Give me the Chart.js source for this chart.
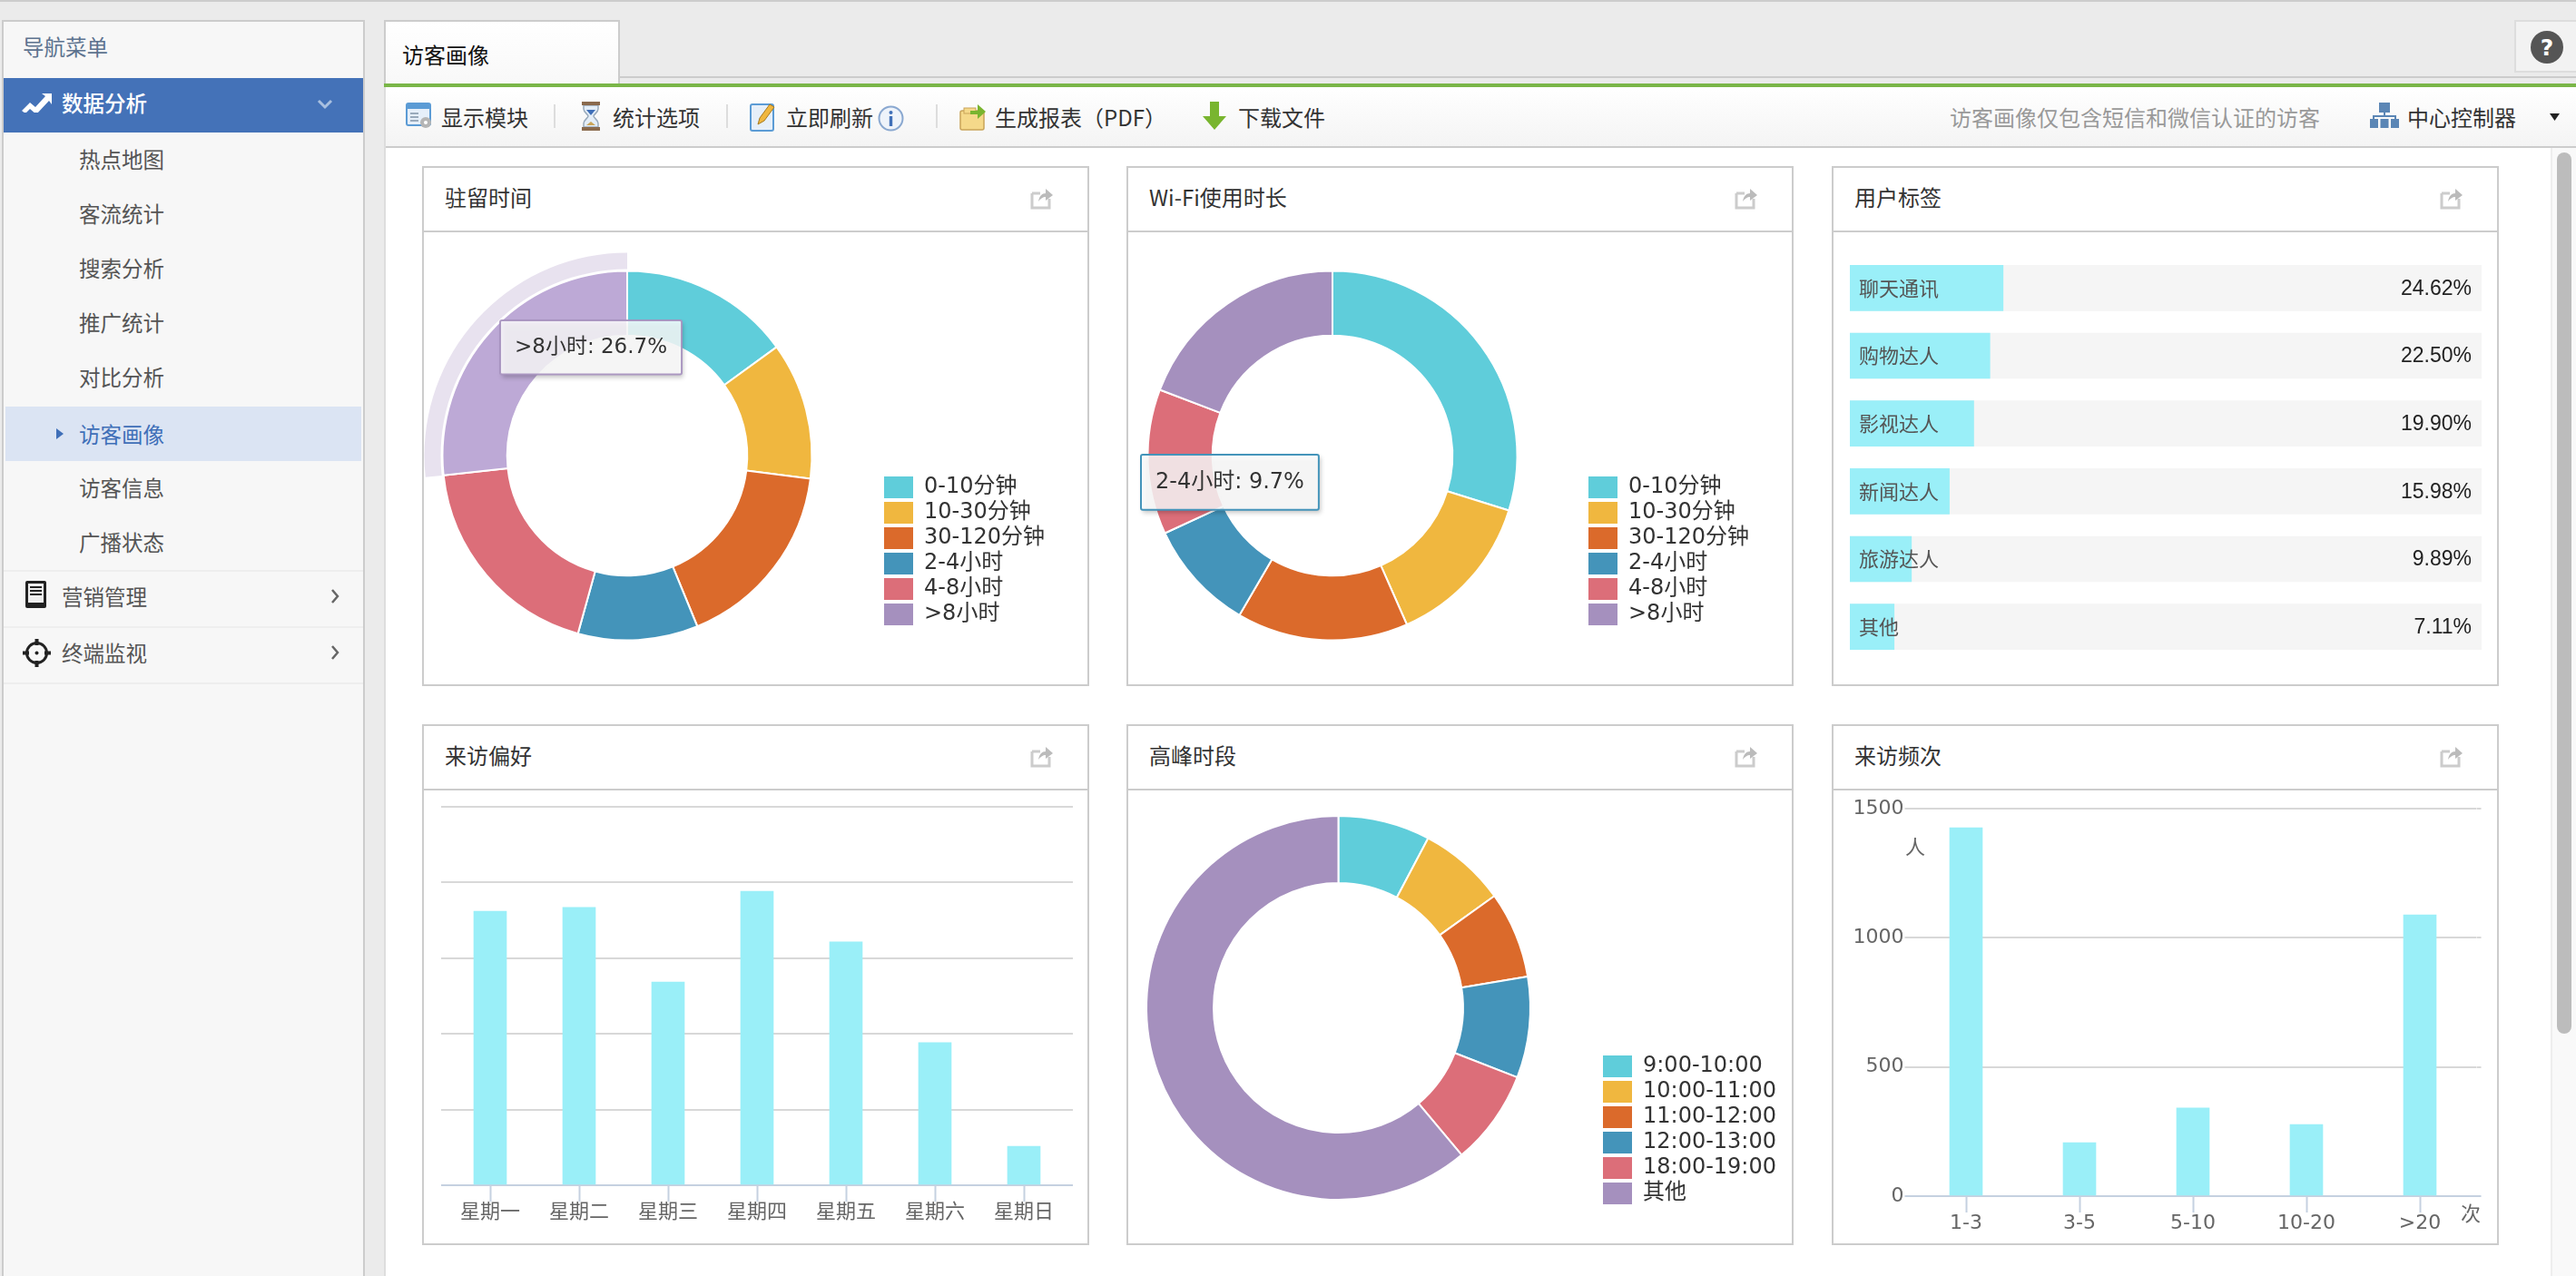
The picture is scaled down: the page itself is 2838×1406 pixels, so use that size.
<!DOCTYPE html>
<html lang="zh">
<head>
<meta charset="utf-8">
<title>访客画像</title>
<script src="https://cdn.jsdelivr.net/npm/chart.js@4"></script>
<style>
html, body { margin: 0; padding: 0; }
body { width: 2838px; height: 1406px; overflow: hidden; position: relative; background: #ebebeb;
  font-family: "Noto Sans CJK SC", sans-serif; font-size: 24px; color: #333; }
.abs, .side, .item, .tool, .panel, canvas, svg.ic { position: absolute; }
#topline { left: 0; top: 0; width: 2838px; height: 2px; background: #ccc; }
#sidebar { left: 2px; top: 22px; width: 400px; height: 1384px; box-sizing: border-box; background: #f7f7f7;
  border: 2px solid #ccc; border-bottom: 0; }
.item { font-size: 23.5px; line-height: 32px; color: #555; white-space: nowrap; }
#navhead { left: 25px; top: 35px; color: #5d738f; }
#row-active { left: 6px; top: 448px; width: 392px; height: 60px; background: #dbe4f3; }
#row-blue { left: 4px; top: 86px; width: 396px; height: 60px; background: #4472b8; }
.rule { left: 4px; width: 396px; height: 2px; background: #eee; }
#main { left: 423px; top: 96px; width: 2415px; height: 1310px; background: #fff; border-left: 2px solid #ddd; box-sizing: border-box; }
#tab { left: 423px; top: 22px; width: 260px; height: 72px; box-sizing: border-box; background: linear-gradient(#fff, #f8f8f8);
  border: 2px solid #ccc; border-bottom: 0; color: #111; line-height: 72px; padding-left: 18px; }
#tabline { left: 683px; top: 84px; width: 2155px; height: 2px; background: #ccc; }
#green { left: 423px; top: 92px; width: 2415px; height: 4px; background: #7ab648; }
#toolbar { left: 425px; top: 96px; width: 2413px; height: 67px; box-sizing: border-box; background: linear-gradient(#fff, #f4f4f4);
  border-bottom: 2px solid #ccc; }
.tool { top: 113px; line-height: 32px; white-space: nowrap; color: #333; }
.sep { top: 115px; width: 2px; height: 26px; background: #ddd; }
#help { left: 2770px; top: 22px; width: 68px; height: 58px; box-sizing: border-box; background: #f2f2f2; border: 2px solid #ddd; border-right: 0; }
#track { left: 2810px; top: 163px; width: 28px; height: 1243px; background: #f9f9f9; border-left: 2px solid #eee; box-sizing: border-box; }
#thumb { left: 2817px; top: 168px; width: 16px; height: 971px; background: #bcbcbc; border-radius: 8px; }
.panel { box-sizing: border-box; width: 735px; border: 2px solid #ccc; background: #fff; }
.panel h3 { margin: 0; height: 69px; line-height: 64px; padding-left: 23px; font-weight: 400; font-size: 24px; color: #333;
  border-bottom: 2px solid #ccc; }
.panel svg { position: absolute; right: 37px; top: 20px; width: 26px; height: 26px; }
.unit { font-size: 22px; line-height: 26px; color: #666; }
</style>
</head>
<body>
<svg width="0" height="0" style="position:absolute">
  <symbol id="exp" viewBox="0 0 26 26">
    <path d="M2 8h9M2 8v16h19v-10" fill="none" stroke="#ccc" stroke-width="3"/>
    <path d="M9 17c1-6 4-9 8-9V3l8 7-8 6v-4c-3 0-6 2-8 5z" fill="#bbb"/>
  </symbol>
</svg>

<div class="abs" id="topline"></div>

<!-- 左侧菜单 -->
<div class="abs" id="sidebar"></div>
<div class="abs" id="row-blue"></div>
<div class="abs" id="row-active"></div>
<div class="item" id="navhead">导航菜单</div>
<div class="item" style="left:68px;top:97px;color:#fff;font-weight:500">数据分析</div>
<div class="item" style="left:87px;top:159px">热点地图</div>
<div class="item" style="left:87px;top:219px">客流统计</div>
<div class="item" style="left:87px;top:279px">搜索分析</div>
<div class="item" style="left:87px;top:339px">推广统计</div>
<div class="item" style="left:87px;top:399px">对比分析</div>
<div class="item" style="left:87px;top:462px;color:#3f6fb8">访客画像</div>
<div class="item" style="left:87px;top:521px">访客信息</div>
<div class="item" style="left:87px;top:581px">广播状态</div>
<div class="abs rule" style="top:628px"></div>
<div class="item" style="left:68px;top:641px">营销管理</div>
<div class="abs rule" style="top:690px"></div>
<div class="item" style="left:68px;top:703px">终端监视</div>
<div class="abs rule" style="top:752px"></div>
<svg class="ic" style="left:24px;top:102px" width="33" height="22" viewBox="0 0 33 22"><path d="M0 20l9-9 6 5 11-12-4-3h11v12l-3-4-14 15-7-6-5 5z" fill="#fff"/></svg>
<svg class="ic" style="left:349px;top:109px" width="18" height="12" viewBox="0 0 18 12"><path d="M2 2l7 7 7-7" fill="none" stroke="#a9c0e0" stroke-width="3"/></svg>
<svg class="ic" style="left:62px;top:470px" width="9" height="16" viewBox="0 0 9 16"><path d="M0 2l8 6-8 6z" fill="#3f6fb8"/></svg>
<svg class="ic" style="left:28px;top:640px" width="23" height="30" viewBox="0 0 23 30"><rect width="23" height="30" rx="2" fill="#222"/><rect x="3" y="3" width="17" height="21" fill="#eee"/><path d="M5 7h13M5 11h13M5 15h13" stroke="#222" stroke-width="2"/></svg>
<svg class="ic" style="left:24px;top:703px" width="33" height="33" viewBox="0 0 33 33"><circle cx="16.5" cy="16.5" r="11" fill="none" stroke="#222" stroke-width="3"/><path d="M16.5 1v7M16.5 25v7M1 16.5h7M25 16.5h7" stroke="#222" stroke-width="4"/><circle cx="16.5" cy="16.5" r="2" fill="#222"/></svg>
<svg class="ic" style="left:364px;top:648px" width="10" height="18" viewBox="0 0 10 18"><path d="M2 2l6 7-6 7" fill="none" stroke="#666" stroke-width="2.5"/></svg>
<svg class="ic" style="left:364px;top:710px" width="10" height="18" viewBox="0 0 10 18"><path d="M2 2l6 7-6 7" fill="none" stroke="#666" stroke-width="2.5"/></svg>

<!-- 顶部标签和工具条 -->
<div class="abs" id="main"></div>
<div class="abs" id="tabline"></div>
<div class="abs" id="tab">访客画像</div>
<div class="abs" id="green"></div>
<div class="abs" id="toolbar"></div>
<svg class="ic" style="left:447px;top:113px" width="30" height="29" viewBox="0 0 30 29"><rect x="1" y="1" width="26" height="24" rx="2" fill="#e6eff9" stroke="#5b9bd5" stroke-width="2"/><rect x="1" y="1" width="26" height="6" fill="#5b9bd5"/><path d="M5 12h9M5 16h9M5 20h9" stroke="#9ab" stroke-width="2"/><circle cx="22" cy="22" r="6" fill="#b5b5b5"/><circle cx="22" cy="22" r="2" fill="#fff"/></svg>
<div class="tool" style="left:486px">显示模块</div>
<div class="abs sep" style="left:610px"></div>
<svg class="ic" style="left:640px;top:112px" width="22" height="32" viewBox="0 0 22 32"><path d="M3 4h16v4c0 4-5 6-5 8s5 4 5 8v4H3v-4c0-4 5-6 5-8S3 12 3 8z" fill="#e4eef8" stroke="#9ab" stroke-width="1.5"/><path d="M6 9h10l-5 6z" fill="#3f6fb8"/><path d="M6 26l5-4 5 4z" fill="#c9a458"/><rect x="1" y="0" width="20" height="4" fill="#8a6a4d"/><rect x="1" y="28" width="20" height="4" fill="#8a6a4d"/></svg>
<div class="tool" style="left:675px">统计选项</div>
<div class="abs sep" style="left:800px"></div>
<svg class="ic" style="left:826px;top:112px" width="29" height="33" viewBox="0 0 29 33"><rect x="1" y="3" width="25" height="29" rx="2" fill="#e6eff9" stroke="#5b9bd5" stroke-width="2"/><path d="M9 25l2-7L22 3l5 3-11 15z" fill="#f0b73f" stroke="#a87a20"/></svg>
<div class="tool" style="left:866px">立即刷新</div>
<svg class="ic" style="left:967px;top:116px" width="29" height="29" viewBox="0 0 29 29"><circle cx="14.5" cy="14.5" r="13" fill="#eef3fa" stroke="#8aa8d0" stroke-width="2"/><circle cx="14.5" cy="8" r="2" fill="#3f6fb8"/><rect x="12.8" y="12" width="3.4" height="11" fill="#3f6fb8"/></svg>
<div class="abs sep" style="left:1031px"></div>
<svg class="ic" style="left:1057px;top:112px" width="30" height="32" viewBox="0 0 30 32"><rect x="1" y="10" width="26" height="21" rx="2" fill="#f5d98a" stroke="#c9a458" stroke-width="1.5"/><rect x="5" y="7" width="13" height="6" fill="#f5d98a" stroke="#c9a458"/><path d="M12 10h8V3l9 8-9 8v-5h-8z" fill="#79b52f"/></svg>
<div class="tool" style="left:1096px">生成报表（PDF）</div>
<svg class="ic" style="left:1325px;top:112px" width="26" height="33" viewBox="0 0 26 33"><path d="M8 0h10v16h8L13 31 0 16h8z" fill="#79b52f"/></svg>
<div class="tool" style="left:1364px">下载文件</div>
<div class="tool" style="left:2148px;color:#999">访客画像仅包含短信和微信认证的访客</div>
<svg class="ic" style="left:2611px;top:113px" width="32" height="28" viewBox="0 0 32 28"><g fill="#5b86b5"><rect x="10" y="0" width="12" height="11"/><rect x="0" y="18" width="9" height="10"/><rect x="11.5" y="18" width="9" height="10"/><rect x="23" y="18" width="9" height="10"/></g><path d="M16 11v5M4 18v-3h24v3" fill="none" stroke="#5b86b5" stroke-width="2"/></svg>
<div class="tool" style="left:2652px">中心控制器</div>
<svg class="ic" style="left:2809px;top:125px" width="11" height="8" viewBox="0 0 11 8"><path d="M0 0h11L5.5 8z" fill="#222"/></svg>
<div class="abs" id="help"></div>
<svg class="ic" style="left:2787px;top:33px" width="38" height="38" viewBox="0 0 38 38"><circle cx="19" cy="19" r="18" fill="#555"/><text x="19" y="28" text-anchor="middle" font-family="DejaVu Sans" font-weight="700" font-size="25" fill="#fff">?</text></svg>
<div class="abs" id="track"></div>
<div class="abs" id="thumb"></div>

<!-- 六个面板 -->
<div class="panel" style="left:465px;top:183px;height:573px"><h3>驻留时间</h3><svg><use href="#exp"/></svg></div>
<div class="panel" style="left:1241px;top:183px;height:573px"><h3>Wi-Fi使用时长</h3><svg><use href="#exp"/></svg></div>
<div class="panel" style="left:2018px;top:183px;height:573px"><h3>用户标签</h3><svg><use href="#exp"/></svg></div>
<div class="panel" style="left:465px;top:798px;height:574px"><h3>来访偏好</h3><svg><use href="#exp"/></svg></div>
<div class="panel" style="left:1241px;top:798px;height:574px"><h3>高峰时段</h3><svg><use href="#exp"/></svg></div>
<div class="panel" style="left:2018px;top:798px;height:574px"><h3>来访频次</h3><svg><use href="#exp"/></svg></div>

<canvas id="chartStay" width="734" height="500" style="left:465px;top:256px"></canvas>
<canvas id="chartWifi" width="734" height="500" style="left:1241px;top:256px"></canvas>
<canvas id="chartTags" width="728" height="496" style="left:2021px;top:257px"></canvas>
<canvas id="chartWeek" width="728" height="497" style="left:468px;top:872px"></canvas>
<canvas id="chartPeak" width="734" height="500" style="left:1241px;top:871px"></canvas>
<canvas id="chartFreq" width="728" height="497" style="left:2021px;top:872px"></canvas>
<div class="abs unit" style="left:2099px;top:918px">人</div>
<div class="abs unit" style="left:2711px;top:1322px">次</div>

<script>
// 数据
const stayLabels = ["0-10分钟", "10-30分钟", "30-120分钟", "2-4小时", "4-8小时", ">8小时"];
const stayValues = [15.0, 12.0, 16.8, 10.5, 19.0, 26.7];
const wifiLabels = ["0-10分钟", "10-30分钟", "30-120分钟", "2-4小时", "4-8小时", ">8小时"];
const wifiValues = [29.8, 13.6, 15.0, 9.7, 12.7, 19.2];
const peakLabels = ["9:00-10:00", "10:00-11:00", "11:00-12:00", "12:00-13:00", "18:00-19:00", "其他"];
const peakValues = [7.75, 7.35, 7.3, 8.5, 8.0, 61.1];
const tagLabels = ["聊天通讯", "购物达人", "影视达人", "新闻达人", "旅游达人", "其他"];
const tagValues = [24.62, 22.50, 19.90, 15.98, 9.89, 7.11];
const tagTrack = [101.5, 101.5, 101.5, 101.5, 101.5, 101.5];
const weekLabels = ["星期一", "星期二", "星期三", "星期四", "星期五", "星期六", "星期日"];
const weekValues = [72.4, 73.4, 53.7, 77.7, 64.3, 37.7, 10.3];
const freqLabels = ["1-3", "3-5", "5-10", "10-20", ">20"];
const freqValues = [1426, 207, 341, 277, 1089];

const sliceColors = ["#5fcdda", "#f0b73f", "#db6a2b", "#4494ba", "#dc6e79", "#a590be"];
const barColor = "#9aeff8";
const latinFont = '"DejaVu Sans", "Noto Sans CJK SC", sans-serif';
const cjkFont = '"Noto Sans CJK SC", sans-serif';

Chart.defaults.devicePixelRatio = 1;
Chart.Tooltip.positioners.fixed = function (items, eventPosition) {
    return eventPosition;
};

// 图例放到指定位置，不占图表区域
const legendMove = {
    id: "legendMove",
    afterLayout(chart, args, opts) {
        const legend = chart.legend;
        legend.left = opts.x;
        legend.top = opts.y;
        legend.right = opts.x + legend.width + 10;
        legend.bottom = opts.y + legend.height + 10;
    }
};

// 悬停扇区外面的一圈
const hoverRing = {
    id: "hoverRing",
    afterDatasetsDraw(chart, args, opts) {
        if (opts.index === undefined) return;
        const arc = chart.getDatasetMeta(0).data[opts.index];
        const ctx = chart.ctx;
        ctx.save();
        ctx.beginPath();
        ctx.arc(arc.x, arc.y, arc.outerRadius + 2, arc.startAngle, arc.endAngle);
        ctx.arc(arc.x, arc.y, arc.outerRadius + 20, arc.endAngle, arc.startAngle, true);
        ctx.closePath();
        ctx.fillStyle = "#e8e2ef";
        ctx.fill();
        ctx.restore();
    }
};

// 提示框的底色和阴影
const tipBox = {
    id: "tipBox",
    beforeTooltipDraw(chart) {
        const t = chart.tooltip;
        const ctx = chart.ctx;
        ctx.save();
        ctx.shadowColor = "rgba(0,0,0,0.28)";
        ctx.shadowBlur = 5;
        ctx.shadowOffsetX = 2;
        ctx.shadowOffsetY = 3;
        ctx.fillStyle = "rgba(255,255,255,0.82)";
        ctx.fillRect(t.x, t.y, t.width, t.height);
        ctx.restore();
    }
};

function legendLabels(chart) {
    const items = Chart.overrides.doughnut.plugins.legend.labels.generateLabels(chart);
    return items.map(item => ({ ...item, lineWidth: 0 }));
}

function drawDonut(id, labels, values, padding, legendPos, tip) {
    const dataset = {
        data: values,
        backgroundColor: sliceColors,
        borderColor: "#fff",
        borderWidth: 2,
        hoverBorderColor: "#fff",
        hoverOffset: 0
    };
    if (tip && tip.hoverColor) {
        dataset.hoverBackgroundColor = sliceColors.map(() => tip.hoverColor);
    }
    const chart = new Chart(document.getElementById(id), {
        type: "doughnut",
        data: { labels: labels, datasets: [dataset] },
        plugins: [legendMove, hoverRing, tipBox],
        options: {
            responsive: false,
            animation: false,
            events: [],
            cutout: "65%",
            layout: { padding: padding },
            plugins: {
                legendMove: legendPos,
                hoverRing: { index: tip && tip.hoverColor ? tip.index : undefined },
                legend: {
                    position: "chartArea",
                    align: "start",
                    labels: {
                        boxWidth: 32,
                        boxHeight: 24,
                        padding: 4,
                        color: "#333",
                        font: { size: 24, family: latinFont },
                        generateLabels: legendLabels
                    }
                },
                tooltip: {
                    position: "fixed",
                    xAlign: "left",
                    yAlign: "top",
                    caretSize: 0,
                    caretPadding: 0,
                    cornerRadius: 2,
                    displayColors: false,
                    backgroundColor: "rgba(255,255,255,0)",
                    borderColor: tip ? tip.border : "#000",
                    borderWidth: 2,
                    bodyColor: "#333",
                    bodyFont: { size: tip ? tip.fontSize : 24, family: latinFont },
                    padding: { x: 16, y: 16 },
                    callbacks: {
                        title: () => "",
                        label: item => `${item.label}: ${item.parsed}%`
                    }
                }
            }
        }
    });
    if (tip) {
        const active = [{ datasetIndex: 0, index: tip.index }];
        if (tip.hoverColor) {
            chart.setActiveElements(active);
            chart.update();
        }
        chart.tooltip.setActiveElements(active, { x: tip.x, y: tip.y });
        chart.draw();
    }
}

function drawBars(id, labels, values, yMax, yStep, showY, padding, axisWidth, axisHeight) {
    new Chart(document.getElementById(id), {
        type: "bar",
        data: {
            labels: labels,
            datasets: [{ data: values, backgroundColor: barColor, barThickness: 36 }]
        },
        options: {
            responsive: false,
            animation: false,
            events: [],
            layout: { padding: padding },
            plugins: { legend: { display: false }, tooltip: { enabled: false } },
            scales: {
                x: {
                    afterFit: scale => { scale.height = axisHeight; },
                    grid: { offset: false, drawOnChartArea: false, tickLength: 18, tickWidth: 2, tickColor: "#c5d1e0" },
                    border: { color: "#c5d1e0", width: 2 },
                    ticks: { padding: -1, color: "#666", maxRotation: 0, autoSkip: false, font: { size: 22, family: latinFont } }
                },
                y: {
                    min: 0,
                    max: yMax,
                    afterFit: scale => { scale.width = axisWidth; },
                    border: { display: false },
                    grid: {
                        lineWidth: 2,
                        tickLength: 5,
                        color: ctx => ctx.tick.value === 0 ? "#c5d1e0" : "#d8d8d8"
                    },
                    ticks: {
                        stepSize: yStep,
                        display: showY,
                        padding: 1,
                        color: "#666",
                        font: { size: 22, family: latinFont },
                        callback: value => String(value)
                    }
                },
                yRight: {
                    position: "right",
                    min: 0,
                    max: yMax,
                    border: { display: false },
                    grid: {
                        drawOnChartArea: false,
                        lineWidth: 2,
                        tickLength: 5,
                        tickColor: ctx => ctx.tick.value === 0 ? "#c5d1e0" : "#d8d8d8"
                    },
                    ticks: { stepSize: yStep, display: false }
                }
            }
        }
    });
}

// 条形里的名称和右边的百分比
const tagText = {
    id: "tagText",
    afterDatasetsDraw(chart) {
        const ctx = chart.ctx;
        const xScale = chart.scales.x;
        ctx.save();
        ctx.textBaseline = "middle";
        chart.getDatasetMeta(0).data.forEach((bar, i) => {
            ctx.textAlign = "left";
            ctx.fillStyle = "#555";
            ctx.font = `22px ${cjkFont}`;
            ctx.fillText(tagLabels[i], xScale.left + 10, bar.y);
            ctx.textAlign = "right";
            ctx.fillStyle = "#222";
            ctx.font = '23px "Liberation Sans", sans-serif';
            ctx.fillText(tagValues[i].toFixed(2) + "%", xScale.right - 11, bar.y + 1);
        });
        ctx.restore();
    }
};

function drawTags() {
    new Chart(document.getElementById("chartTags"), {
        type: "bar",
        data: {
            labels: tagLabels,
            datasets: [
                { data: tagValues, backgroundColor: barColor, order: 0, grouped: false, barThickness: 50 },
                { data: tagTrack, backgroundColor: "#f5f5f5", order: 1, grouped: false, barThickness: 50 }
            ]
        },
        plugins: [tagText],
        options: {
            indexAxis: "y",
            responsive: false,
            animation: false,
            events: [],
            layout: { padding: { left: 17, right: 15, top: 23, bottom: 25 } },
            plugins: { legend: { display: false }, tooltip: { enabled: false } },
            scales: {
                x: { display: false, min: 0, max: 101.5 },
                y: { display: false }
            }
        }
    });
}

drawDonut("chartStay", stayLabels, stayValues,
    { left: 21.5, right: 303.5, top: 41.5, bottom: 49.5 },
    { x: 505, y: 265 },
    { index: 5, x: 88, y: 97, fontSize: 23, border: "rgba(165,144,190,0.9)", hoverColor: "#bda9d6" });
drawDonut("chartWifi", wifiLabels, wifiValues,
    { left: 22.5, right: 302.5, top: 41.5, bottom: 49.5 },
    { x: 505, y: 265 },
    { index: 3, x: 18, y: 245, fontSize: 24, border: "#4494ba" });
drawDonut("chartPeak", peakLabels, peakValues,
    { left: 21, right: 288, top: 27, bottom: 48 },
    { x: 521, y: 288 },
    null);
drawTags();
drawBars("chartWeek", weekLabels, weekValues, 100, 20, false, { left: 0, right: 14, top: 17, bottom: 0 }, 23, 63);
drawBars("chartFreq", freqLabels, freqValues, 1500, 500, true, { left: 0, right: 15.5, top: 19, bottom: 0 }, 82.5, 51);
</script>
</body>
</html>
